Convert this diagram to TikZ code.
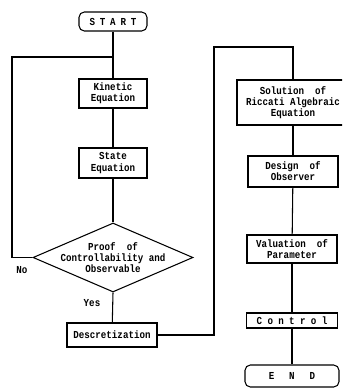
\documentclass[tikz,border=0pt]{standalone}
\usepackage{fontspec}
\usetikzlibrary{shapes.geometric}
\newfontfamily\tw[FakeStretch=0.86]{Liberation Mono}
\begin{document}
\begin{tikzpicture}[x=0.75pt,y=-0.75pt,
  every node/.style={font=\tw\bfseries\fontsize{8pt}{8.4pt}\selectfont},
  box/.style={draw,line width=0.8pt,align=center,inner sep=0pt},
  term/.style={box,rounded corners=4pt},
  ln/.style={line width=0.8pt},
  lbl/.style={inner sep=0pt}]
\clip (0,0) rectangle (342,388);
% left column
\node[term,minimum width=51pt,minimum height=14.25pt] (start) at (113,21.5) {\addfontfeature{LetterSpace=45}START};
\node[box,minimum width=51pt,minimum height=21.75pt] (kin) at (113,93.5) {Kinetic\\Equation};
\node[box,minimum width=51pt,minimum height=22.5pt] (state) at (113,163) {State\\Equation};
\node[diamond,draw,line width=0.8pt,inner sep=0pt,minimum width=120pt,minimum height=51.75pt] (proof) at (113,257.5) {};
\node[lbl,align=center] (prooft) at (proof.center) {Proof\ \ of\\Controllability and\\Observable};
\node[box,minimum width=67.5pt,minimum height=18pt] (desc) at (112,335) {Descretization};
% right column
\node[box,minimum width=84pt,minimum height=33.75pt] (sol) at (293,102.5) {Solution\ \ of\\Riccati Algebraic\\Equation};
\node[box,minimum width=67.5pt,minimum height=23.25pt] (design) at (293,171.5) {Design\ \ of\\Observer};
\node[box,minimum width=67.5pt,minimum height=21pt] (val) at (292,249) {Valuation\ \ of\\Parameter};
\node[box,minimum width=68.25pt,minimum height=11.25pt] (ctrl) at (292,320.5) {\addfontfeature{LetterSpace=50}Control};
\node[term,minimum width=70.5pt,minimum height=16.5pt] (endn) at (292,376) {\addfontfeature{LetterSpace=140}END};
% labels
\node[lbl] (no) at (22,270) {No};
\node[lbl] (yes) at (92,303) {Yes};
% coordinates
\coordinate (lj) at (113,57);
\coordinate (a) at (12,57);
\coordinate (b) at (214,47);
% connectors
\draw[ln] (start) -- (kin);
\draw[ln] (kin) -- (state);
\draw[ln] (state) -- (proof.north);
\draw[ln] (proof.south) -- (desc);
\draw[ln] (proof.west) -| (a) -- (lj);
\draw[ln] (desc.east) -| (b) -| (sol.north);
\draw[ln] (sol) -- (design);
\draw[ln] (design) -- (val);
\draw[ln] (val) -- (ctrl);
\draw[ln] (ctrl) -- (endn);
\end{tikzpicture}
\end{document}
